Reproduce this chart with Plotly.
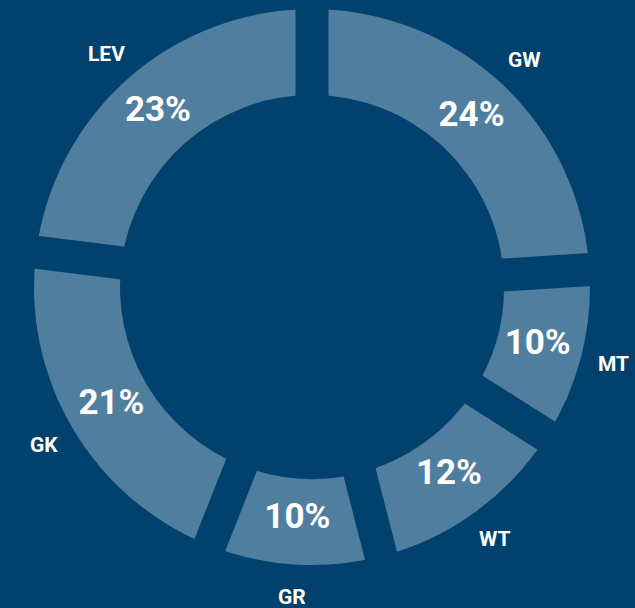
import numpy as np
import plotly.graph_objects as go

labels = ["GW", "MT", "WT", "GR", "GK", "LEV"]
values = [24, 10, 12, 10, 21, 23]

BG = "#00416E"
SLICE = "#507E9F"

W, H = 635, 608
CX, CY = 312, 287   # ring centre in px (from top-left)
RPOL = 287          # polar radius in px (radial units == px)

vals = np.array(values, dtype=float)
total = vals.sum()
start = np.cumsum(vals) - vals
start_deg = start * 360 / total
mid_deg = (start + vals / 2) * 360 / total
width_deg = vals * 360 / total
pct_text = [f"{int(round(v / total * 100))}%" for v in vals]

GAP = 33          # width of the gaps between slices (px)
R_IN = 192        # inner radius (px)
R_OUT = 278       # outer radius (px)

fig = go.Figure()
fig.add_trace(go.Barpolar(
    theta=mid_deg,
    width=width_deg,
    base=[R_IN] * len(vals),
    r=[R_OUT - R_IN] * len(vals),
    marker=dict(color=SLICE, line=dict(color=SLICE, width=0)),
    hoverinfo="skip",
))
# gaps between slices: thick background-coloured radial lines on each boundary
for a in start_deg:
    fig.add_trace(go.Scatterpolar(
        theta=[a, a],
        r=[R_IN - 20, RPOL],
        mode="lines",
        line=dict(color=BG, width=GAP),
        hoverinfo="skip",
    ))
fig.add_trace(go.Scatterpolar(
    theta=mid_deg,
    r=[233] * len(vals),
    mode="text",
    text=pct_text,
    textfont=dict(family="Roboto", size=35, color="white", weight="bold"),
    cliponaxis=False,
    hoverinfo="skip",
))

# category names outside the ring
R_LAB = 311
ann = []
for name, a in zip(labels, mid_deg):
    t = np.deg2rad(a)
    xp = CX + R_LAB * np.sin(t)
    yp = CY - R_LAB * np.cos(t)
    ann.append(dict(x=xp / W, y=1 - yp / H, xref="paper", yref="paper",
                    xanchor="center", yanchor="middle",
                    text=name, showarrow=False,
                    font=dict(family="Roboto", size=21, color="white", weight="bold")))

fig.update_layout(
    width=W, height=H,
    margin=dict(l=0, r=0, t=0, b=0),
    paper_bgcolor=BG,
    plot_bgcolor=BG,
    showlegend=False,
    annotations=ann,
    polar=dict(
        domain=dict(x=[(CX - RPOL) / W, (CX + RPOL) / W],
                    y=[1 - (CY + RPOL) / H, 1 - (CY - RPOL) / H]),
        bgcolor=BG,
        radialaxis=dict(range=[0, RPOL], visible=False, showgrid=False),
        angularaxis=dict(visible=False, showgrid=False, direction="clockwise",
                         rotation=90, thetaunit="degrees"),
        bargap=0,
    ),
)

fig.write_html("out.html", config={"displayModeBar": False},
               post_script="document.body.style.margin='0px';")
